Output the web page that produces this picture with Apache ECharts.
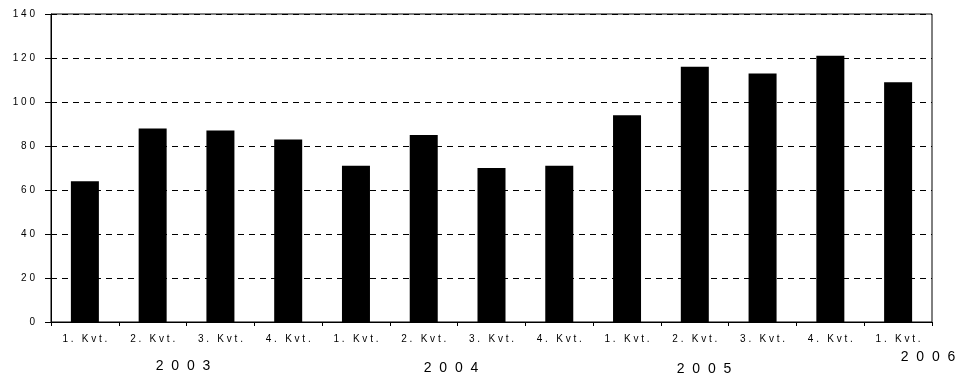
<!DOCTYPE html>
<html>
<head>
<meta charset="utf-8">
<script src="https://cdn.jsdelivr.net/npm/echarts@6/dist/echarts.min.js"></script>
<style>
  html, body { margin: 0; padding: 0; background: #fff; }
  #chart { width: 959px; height: 378px; }
</style>
</head>
<body>
<div id="chart"></div>
<script>
// Quarterly index values, 2003 Q1 – 2006 Q1
const quarters = ['1. Kvt.', '2. Kvt.', '3. Kvt.', '4. Kvt.',
                  '1. Kvt.', '2. Kvt.', '3. Kvt.', '4. Kvt.',
                  '1. Kvt.', '2. Kvt.', '3. Kvt.', '4. Kvt.',
                  '1. Kvt.'];
const values = [64, 88, 87, 83, 71, 85, 70, 71, 94, 116, 113, 121, 109];
const years = ['2003', '2004', '2005', '2006'];
const yTicks = { min: 0, max: 140, interval: 20 };

const chart = echarts.init(document.getElementById('chart'), null, { renderer: 'canvas' });

const font = 'Liberation Sans, Arial, sans-serif';

// widely tracked lettering, as in the printed report
const track = (s, gap) => String(s).split('').join(gap);

// year captions placed beneath the quarter labels
const yearPos = [
  { x: 183, y: 366 },
  { x: 451, y: 368 },
  { x: 704, y: 369 },
  { x: 928, y: 357 }
];

chart.setOption({
  animation: false,
  backgroundColor: '#fff',
  grid: {
    left: 51, right: 27, top: 14, bottom: 56,
    show: true, borderColor: '#000', borderWidth: 1,
    backgroundColor: 'transparent'
  },
  xAxis: {
    type: 'category',
    data: quarters.map((q, i) => q + '#' + i),
    axisLine: { lineStyle: { color: '#000', width: 1 } },
    axisTick: { show: true, length: 4, lineStyle: { color: '#000' } },
    axisLabel: {
      interval: 0, margin: 12, color: '#000', fontSize: 10, fontFamily: font,
      formatter: v => track(v.split('#')[0], ' ')
    },
    splitLine: { show: false }
  },
  yAxis: {
    type: 'value',
    min: yTicks.min, max: yTicks.max, interval: yTicks.interval,
    axisLine: { show: true, lineStyle: { color: '#000', width: 1 } },
    axisTick: { show: true, length: 6, lineStyle: { color: '#000' } },
    axisLabel: {
      margin: 16, color: '#000', fontSize: 10, fontFamily: font,
      formatter: v => track(v, ' ')
    },
    splitLine: { show: true, lineStyle: { color: '#000', width: 1, type: [6, 5] } }
  },
  series: [{
    type: 'bar',
    data: values,
    barWidth: 28,
    itemStyle: { color: '#000' }
  }],
  graphic: years.map((y, i) => ({
    type: 'text',
    x: yearPos[i].x,
    y: yearPos[i].y,
    style: {
      text: track(y, '  '),
      fill: '#000',
      font: '14px ' + font,
      textAlign: 'center',
      textVerticalAlign: 'middle'
    }
  }))
});
</script>
</body>
</html>
